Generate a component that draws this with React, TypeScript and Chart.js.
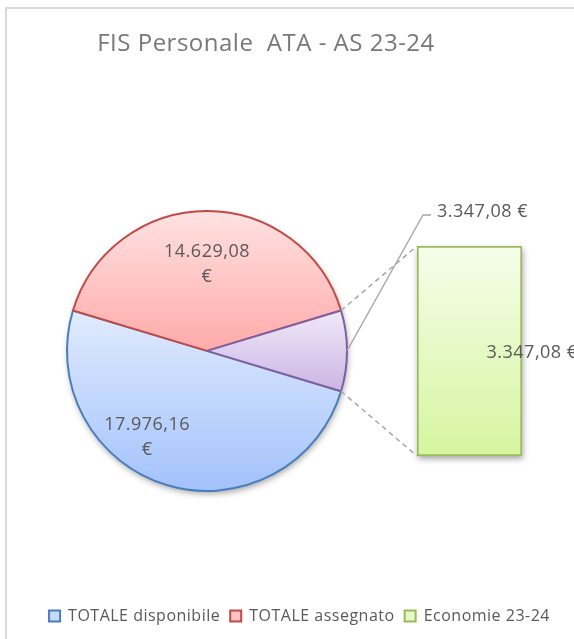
import React, { useEffect, useRef } from "react";
import { Chart, registerables, layouts } from "chart.js";

Chart.register(...registerables);

// ---------------- data ----------------
const titleText = "FIS Personale  ATA - AS 23-24";
const pieLabels = ["TOTALE disponibile", "TOTALE assegnato", "Altro"];
const pieValues = [17976.16, 14629.08, 3347.08];
const barLabels = ["Economie 23-24"];
const barValues = [3347.08];
const legendLabels = ["TOTALE disponibile", "TOTALE assegnato", "Economie 23-24"];

// ---------------- styles ----------------
const W = 574;
const H = 639;
const PIE_RADIUS = 140;
const SPACER_W = 146;
const FONT = "'Open Sans', 'DejaVu Sans', sans-serif";
const LETTER_SPACING = "0.5px";
const textColor = "#595959";
const titleColor = "#787878";
const pieGradients = [
  ["#e0ebfe", "#a3c2fb"],
  ["#ffe2e2", "#ffaaaa"],
  ["#f1e9f9", "#cab5e4"],
];
const pieBorders = ["#4a7ebb", "#be4b48", "#7d60a0"];
const barGradient = ["#f5fdea", "#d6f59f"];
const barBorder = "#9bbb59";
const legendFill = ["#c6d9f7", "#ffc1c1", "#e5f7c6"];
const legendBorder = ["#4a7ebb", "#be4b48", "#9bbb59"];
const connectorColor = "#a6a6a6";

const pieTotal = pieValues.reduce((a, b) => a + b, 0);
const otherIdx = pieValues.length - 1;
// rotate so that the split ("other") slice faces the bar (centered on 3 o'clock)
const rotationDeg = 90 - ((pieTotal - pieValues[otherIdx] / 2) / pieTotal) * 360;
const barTotal = barValues.reduce((a, b) => a + b, 0);

function fmtIt(v: number): string {
  const [i, d] = v.toFixed(2).split(".");
  return i.replace(/\B(?=(\d{3})+(?!\d))/g, ".") + "," + d;
}

function sliceGradient(context: any) {
  const chart = context.chart;
  const i = context.dataIndex;
  const ca = chart.chartArea;
  if (!ca || i === undefined) return pieGradients[0][1];
  const cx = (ca.left + ca.right) / 2;
  const cy = (ca.top + ca.bottom) / 2;
  let cum = 0;
  for (let k = 0; k < i; k++) cum += pieValues[k];
  const start = ((rotationDeg - 90) * Math.PI) / 180 + (cum / pieTotal) * 2 * Math.PI;
  const end = start + (pieValues[i] / pieTotal) * 2 * Math.PI;
  let ymin = cy;
  let ymax = cy;
  for (let s = 0; s <= 200; s++) {
    const a = start + ((end - start) * s) / 200;
    const y = cy + PIE_RADIUS * Math.sin(a);
    ymin = Math.min(ymin, y);
    ymax = Math.max(ymax, y);
  }
  const g = chart.ctx.createLinearGradient(0, ymin, 0, ymax);
  g.addColorStop(0, pieGradients[i][0]);
  g.addColorStop(1, pieGradients[i][1]);
  return g;
}

function barFill(context: any) {
  const chart = context.chart;
  const ca = chart.chartArea;
  if (!ca) return barGradient[1];
  const g = chart.ctx.createLinearGradient(0, ca.top, 0, ca.bottom);
  g.addColorStop(0, barGradient[0]);
  g.addColorStop(1, barGradient[1]);
  return g;
}

// letter spacing for all canvas text (set before layout measuring and drawing)
const spacingPlugin = {
  id: "letterSpacing",
  beforeUpdate(chart: any) {
    chart.ctx.letterSpacing = LETTER_SPACING;
  },
  beforeDraw(chart: any) {
    chart.ctx.letterSpacing = LETTER_SPACING;
  },
};

// invisible right-side layout box that shifts the pie to the left
const spacerPlugin = {
  id: "rightSpacer",
  beforeInit(chart: any) {
    const box: any = {
      position: "right",
      weight: 100,
      fullSize: false,
      options: {},
      left: 0,
      top: 0,
      right: 0,
      bottom: 0,
      width: 0,
      height: 0,
      isHorizontal() {
        return false;
      },
      update(_maxWidth: number, maxHeight: number) {
        box.width = SPACER_W;
        box.height = maxHeight;
      },
      draw() {},
    };
    layouts.addBox(chart, box);
  },
};

const pieShadowPlugin = {
  id: "pieShadow",
  beforeDatasetsDraw(chart: any) {
    const arc = chart.getDatasetMeta(0).data[0];
    if (!arc) return;
    const { x, y, outerRadius } = arc.getProps(["x", "y", "outerRadius"], true);
    const ctx = chart.ctx;
    ctx.save();
    ctx.shadowColor = "rgba(0,0,0,0.35)";
    ctx.shadowBlur = 6;
    ctx.shadowOffsetX = 1;
    ctx.shadowOffsetY = 3;
    ctx.fillStyle = "#ffffff";
    ctx.beginPath();
    ctx.arc(x, y, outerRadius, 0, Math.PI * 2);
    ctx.fill();
    ctx.restore();
  },
};

const pieLabelPlace = [
  { shiftDeg: 18, frac: 0.75 },
  { shiftDeg: 0, frac: 0.62 },
];

const pieLabelPlugin = {
  id: "pieLabels",
  afterDatasetsDraw(chart: any) {
    const ctx = chart.ctx;
    const meta = chart.getDatasetMeta(0);
    ctx.save();
    ctx.letterSpacing = LETTER_SPACING;
    ctx.font = `18px ${FONT}`;
    ctx.fillStyle = textColor;
    ctx.textAlign = "center";
    ctx.textBaseline = "middle";
    pieLabelPlace.forEach((p, i) => {
      const arc = meta.data[i];
      const { x, y, startAngle, endAngle, outerRadius } = arc.getProps(
        ["x", "y", "startAngle", "endAngle", "outerRadius"],
        true
      );
      const a = (startAngle + endAngle) / 2 + (p.shiftDeg * Math.PI) / 180;
      const lx = x + Math.cos(a) * p.frac * outerRadius;
      const ly = y + Math.sin(a) * p.frac * outerRadius;
      ctx.fillText(fmtIt(pieValues[i]), lx, ly - 12.5);
      ctx.fillText("€", lx, ly + 12.5);
    });
    ctx.restore();
  },
};

const barShadowPlugin = {
  id: "barShadow",
  beforeDatasetsDraw(chart: any) {
    const ca = chart.chartArea;
    const el = chart.getDatasetMeta(0).data[0];
    if (!el) return;
    const { x, width } = el.getProps(["x", "width"], true);
    const ctx = chart.ctx;
    ctx.save();
    ctx.shadowColor = "rgba(0,0,0,0.35)";
    ctx.shadowBlur = 6;
    ctx.shadowOffsetX = 1;
    ctx.shadowOffsetY = 3;
    ctx.fillStyle = "#ffffff";
    ctx.fillRect(x - width / 2, ca.top, width, ca.bottom - ca.top);
    ctx.restore();
  },
};

function makeOverlayPlugin(pie: any) {
  return {
    id: "pieOfBarOverlay",
    afterDatasetsDraw(chart: any) {
      const ctx = chart.ctx;
      const ca = chart.chartArea;
      const el = chart.getDatasetMeta(0).data[0];
      const { x: bx, width: bw } = el.getProps(["x", "width"], true);
      const barLeft = bx - bw / 2;
      const barTop = ca.top;
      const barBottom = ca.bottom;
      const arc = pie.getDatasetMeta(0).data[otherIdx];
      const { x, y, startAngle, endAngle, outerRadius } = arc.getProps(
        ["x", "y", "startAngle", "endAngle", "outerRadius"],
        true
      );
      const p1 = [x + Math.cos(startAngle) * outerRadius, y + Math.sin(startAngle) * outerRadius];
      const p2 = [x + Math.cos(endAngle) * outerRadius, y + Math.sin(endAngle) * outerRadius];
      const mid = (startAngle + endAngle) / 2;
      const pm = [x + Math.cos(mid) * outerRadius, y + Math.sin(mid) * outerRadius];

      ctx.save();
      // dashed series lines
      ctx.strokeStyle = connectorColor;
      ctx.lineWidth = 1.5;
      ctx.setLineDash([5, 4]);
      ctx.beginPath();
      ctx.moveTo(p1[0], p1[1]);
      ctx.lineTo(barLeft, barTop);
      ctx.moveTo(p2[0], p2[1]);
      ctx.lineTo(barLeft, barBottom);
      ctx.stroke();
      // leader line for the "other" slice
      ctx.setLineDash([]);
      ctx.lineWidth = 1.3;
      const elbowX = barLeft + 6;
      const elbowY = barTop - 31;
      ctx.beginPath();
      ctx.moveTo(pm[0], pm[1]);
      ctx.lineTo(elbowX, elbowY);
      ctx.lineTo(elbowX + 8, elbowY);
      ctx.stroke();

      ctx.letterSpacing = LETTER_SPACING;
      ctx.font = `18px ${FONT}`;
      ctx.fillStyle = textColor;
      ctx.textAlign = "left";
      ctx.textBaseline = "middle";
      ctx.fillText(fmtIt(pieValues[otherIdx]) + " €", elbowX + 14, elbowY - 3);
      // bar data label
      ctx.fillText(fmtIt(barValues[0]) + " €", bx + 17, (barTop + barBottom) / 2 + 2);
      ctx.restore();
    },
  };
}

export default function App() {
  const pieRef = useRef<HTMLCanvasElement>(null);
  const barRef = useRef<HTMLCanvasElement>(null);

  useEffect(() => {
    const pie = new Chart(pieRef.current as HTMLCanvasElement, {
      type: "pie",
      data: {
        labels: pieLabels,
        datasets: [
          {
            data: pieValues,
            backgroundColor: sliceGradient as any,
            borderColor: pieBorders,
            borderWidth: 2,
            hoverOffset: 0,
          },
        ],
      },
      options: {
        animation: false,
        responsive: false,
        events: [],
        rotation: rotationDeg,
        radius: PIE_RADIUS,
        layout: { padding: { top: 0, left: -28, right: 14, bottom: 5 } },
        plugins: {
          title: {
            display: true,
            text: titleText,
            color: titleColor,
            font: { family: FONT, size: 24, weight: "normal" },
            padding: { top: 30, bottom: 45 },
          },
          legend: {
            display: true,
            position: "bottom",
            align: "end",
            labels: {
              font: { family: FONT, size: 16 },
              color: textColor,
              boxWidth: 11,
              boxHeight: 11,
              padding: 10,
              generateLabels: () =>
                legendLabels.map((t, i) => ({
                  text: t,
                  fillStyle: legendFill[i],
                  strokeStyle: legendBorder[i],
                  lineWidth: 2,
                  hidden: false,
                  index: i,
                  datasetIndex: 0,
                  fontColor: textColor,
                })),
            },
          },
          tooltip: { enabled: false },
        },
      } as any,
      plugins: [spacingPlugin, spacerPlugin, pieShadowPlugin, pieLabelPlugin] as any,
    });

    const bar = new Chart(barRef.current as HTMLCanvasElement, {
      type: "bar",
      data: {
        labels: ["Altro"],
        datasets: barValues.map((v, i) => ({
          label: barLabels[i],
          data: [v],
          backgroundColor: barFill as any,
          borderColor: barBorder,
          borderWidth: 2,
          borderSkipped: false,
          barPercentage: 1,
          categoryPercentage: 1,
        })),
      },
      options: {
        animation: false,
        responsive: false,
        events: [],
        layout: { padding: { left: 417, right: 52, top: 246, bottom: 183 } },
        scales: {
          x: { display: false, stacked: true },
          y: { display: false, stacked: true, min: 0, max: barTotal },
        },
        plugins: {
          legend: { display: false },
          title: { display: false },
          tooltip: { enabled: false },
        },
      } as any,
      plugins: [barShadowPlugin, makeOverlayPlugin(pie)] as any,
    });

    return () => {
      bar.destroy();
      pie.destroy();
    };
  }, []);

  return (
    <div
      style={{
        position: "absolute",
        left: 0,
        top: 0,
        width: W,
        height: H,
        overflow: "hidden",
        background: "#ffffff",
      }}
    >
      <div
        style={{
          position: "absolute",
          left: 5,
          top: 7,
          width: 800,
          height: 900,
          borderLeft: "2px solid #d9d9d9",
          borderTop: "2px solid #d9d9d9",
        }}
      />
      <canvas
        ref={pieRef}
        width={W}
        height={H}
        style={{ position: "absolute", left: 0, top: 0, width: W, height: H }}
      />
      <canvas
        ref={barRef}
        width={W}
        height={H}
        style={{ position: "absolute", left: 0, top: 0, width: W, height: H }}
      />
    </div>
  );
}
